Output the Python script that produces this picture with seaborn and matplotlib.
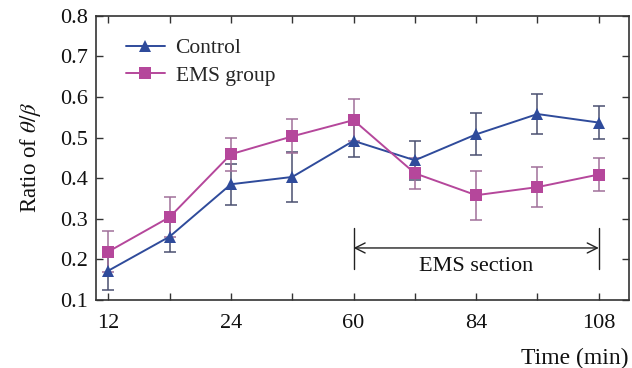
import numpy as np
import pandas as pd
import matplotlib
matplotlib.use('Agg')
import matplotlib.pyplot as plt
import seaborn as sns

# data
time_labels = ['12', '18', '24', '36', '60', '72', '84', '96', '108']
control = [0.172, 0.256, 0.385, 0.403, 0.492, 0.444, 0.508, 0.558, 0.537]
control_err = [0.048, 0.037, 0.050, 0.062, 0.040, 0.048, 0.052, 0.050, 0.040]
ems = [0.219, 0.304, 0.459, 0.503, 0.543, 0.412, 0.358, 0.378, 0.409]
ems_err = [0.050, 0.050, 0.041, 0.042, 0.051, 0.038, 0.060, 0.050, 0.040]

sns.set_theme(style='ticks')
plt.rcParams['font.family'] = ['Liberation Serif', 'DejaVu Serif']
plt.rcParams['mathtext.fontset'] = 'stix'

idx = np.arange(len(time_labels))
df = pd.DataFrame({
    'pos': np.concatenate([idx, idx]),
    'ratio': control + ems,
    'group': ['Control'] * len(idx) + ['EMS group'] * len(idx),
})

blue = '#2f4b9b'
pink = '#b5479b'

fig = plt.figure(figsize=(6.32, 3.68), dpi=100)
ax = fig.add_axes([0.152, 0.185, 0.843, 0.772])

# error bars first so the markers sit on top
ax.errorbar(idx, control, yerr=control_err, fmt='none', ecolor='#4a5070',
            elinewidth=1.1, capsize=4, capthick=1.1, zorder=1)
ax.errorbar(idx, ems, yerr=ems_err, fmt='none', ecolor='#a0709a',
            elinewidth=1.1, capsize=4, capthick=1.1, zorder=1)

sns.lineplot(data=df, x='pos', y='ratio', hue='group', style='group',
             markers={'Control': '^', 'EMS group': 's'}, dashes=False,
             palette={'Control': blue, 'EMS group': pink},
             markersize=8, markeredgewidth=0, linewidth=1.4, ax=ax, zorder=3)

ax.set_xlim(-0.2, 8.49)
ax.set_ylim(0.1, 0.8)
ax.set_xticks(idx[::2])
ax.set_xticklabels([time_labels[i] for i in idx[::2]])
ax.set_xticks(idx, minor=True)
ax.set_yticks(np.arange(0.1, 0.81, 0.1))
ax.tick_params(axis='both', which='both', direction='in', top=True, right=True,
               labelsize=16, width=1, color='#333333', labelcolor='#111111')
ax.tick_params(axis='both', which='major', length=5)
ax.tick_params(axis='x', which='minor', length=5)
ax.tick_params(axis='x', pad=10)
ax.tick_params(axis='y', pad=6)
for s in ax.spines.values():
    s.set_linewidth(1.2)
    s.set_color('#333333')

ax.set_xlabel('Time (min)', fontsize=17, ha='right', color='#111111')
ax.xaxis.set_label_coords(1.0, -0.17)
ax.set_ylabel(r'Ratio of $\theta/\beta$', fontsize=16.5, labelpad=12,
              color='#111111')

leg = ax.legend(loc='upper left', frameon=False, fontsize=15.5,
                bbox_to_anchor=(0.02, 0.99), handlelength=1.8,
                handletextpad=0.5, labelspacing=0.35)

# EMS section marker
ax.plot([4, 4], [0.177, 0.276], color='#222222', lw=1)
ax.plot([8, 8], [0.177, 0.276], color='#222222', lw=1)
ax.annotate('', xy=(4, 0.228), xytext=(8, 0.228),
            arrowprops=dict(arrowstyle='<->', color='#222222', lw=1,
                            shrinkA=0, shrinkB=0, mutation_scale=18))
ax.text(6, 0.183, 'EMS section', ha='center', va='center', fontsize=16,
        color='#111111')

fig.savefig('out.png', dpi=100)
